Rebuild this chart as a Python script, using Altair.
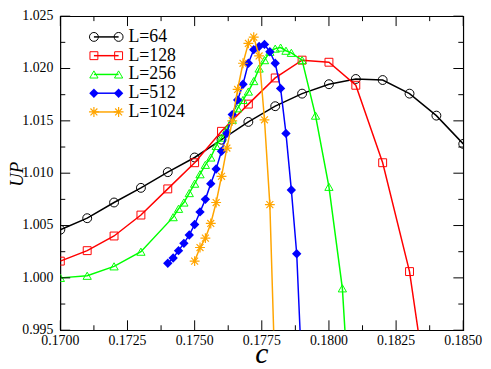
import altair as alt
import pandas as pd

# ---------------- data ----------------
labels = ["L=64", "L=128", "L=256", "L=512", "L=1024"]
colors = ["#000000", "#ff0000", "#00ff00", "#0000ff", "#ffa500"]

c64 = [0.170, 0.171, 0.172, 0.173, 0.174, 0.175, 0.176, 0.177, 0.178, 0.179,
       0.180, 0.181, 0.182, 0.183, 0.184, 0.185]
up64 = [1.0046, 1.0057, 1.0072, 1.0086, 1.0101, 1.0115, 1.0132, 1.0149, 1.0164, 1.0176,
        1.0185, 1.0190, 1.0189, 1.0176, 1.0155, 1.0128]

c128 = [0.170, 0.171, 0.172, 0.173, 0.174, 0.175, 0.176, 0.177, 0.178, 0.179,
        0.180, 0.181, 0.182, 0.183, 0.184]
up128 = [1.0016, 1.0026, 1.0040, 1.0060, 1.0085, 1.0110, 1.0140, 1.0166, 1.0191, 1.0208,
         1.0206, 1.0184, 1.0110, 1.0006, 0.9830]

c256 = [0.1700, 0.1710, 0.1720, 0.1730, 0.1742, 0.1744, 0.1746, 0.1748, 0.1750, 0.1752,
        0.1754, 0.1756, 0.1758, 0.1760, 0.1762, 0.1764, 0.1766, 0.1768, 0.1770, 0.1772,
        0.1774, 0.1776, 0.1778, 0.1780, 0.1782, 0.1784, 0.1786, 0.1790, 0.1795, 0.1800,
        0.1805, 0.1810]
up256 = [1.0000, 1.0002, 1.0011, 1.0025, 1.0058, 1.0066, 1.0072, 1.0081, 1.0090, 1.0099,
         1.0108, 1.0115, 1.0126, 1.0134, 1.0142, 1.0151, 1.0162, 1.0170, 1.0178, 1.0188,
         1.0200, 1.0208, 1.0216, 1.0219, 1.0220, 1.0217, 1.0215, 1.0208, 1.0155, 1.0087,
         0.9990, 0.9780]

c512 = [0.1740, 0.1742, 0.1744, 0.1746, 0.1748, 0.1750, 0.1752, 0.1754, 0.1756, 0.1758,
        0.1760, 0.1762, 0.1764, 0.1766, 0.1768, 0.1770, 0.1772, 0.1774, 0.1776, 0.1778,
        0.1780, 0.1782, 0.1784, 0.1786, 0.1788, 0.1790]
up512 = [1.0014, 1.0019, 1.0026, 1.0033, 1.0041, 1.0051, 1.0063, 1.0075, 1.0090, 1.0104,
         1.0121, 1.0138, 1.0156, 1.0170, 1.0185, 1.0205, 1.0218, 1.0221, 1.0223, 1.0216,
         1.0205, 1.0181, 1.0138, 1.0084, 1.0023, 0.9905]

c1024 = [0.1750, 0.1752, 0.1754, 0.1756, 0.1758, 0.1760, 0.1762, 0.1764, 0.1766, 0.1768,
         0.1770, 0.1772, 0.1774, 0.1776, 0.1778, 0.1780]
up1024 = [1.0016, 1.0029, 1.0038, 1.0052, 1.0072, 1.0097, 1.0124, 1.0150, 1.0180, 1.0205,
          1.0224, 1.0230, 1.0212, 1.0151, 1.0070, 0.9900]

x_major = [0.1700, 0.1725, 0.1750, 0.1775, 0.1800, 0.1825, 0.1850]
x_minor = [0.17125, 0.17375, 0.17625, 0.17875, 0.18125, 0.18375]
y_major = [0.995, 1.000, 1.005, 1.010, 1.015, 1.020, 1.025]
y_minor = [0.9975, 1.0025, 1.0075, 1.0125, 1.0175, 1.0225]
x_title = "c"
y_title = "UP"

# ---------------- layout / style ----------------
W, H = 408, 318
FONT = "Liberation Serif"
ASTERISK = "M-1,0L1,0M0,-1L0,1M-0.7,-0.7L0.7,0.7M-0.7,0.7L0.7,-0.7"
shapes = ["circle", "square", "triangle-up", "diamond", ASTERISK]
filled = [False, False, False, True, False]
sizes = [81, 64, 70, 90, 100]
legend_y = [21, 40, 59, 78, 97]

xs = alt.Scale(domain=[0.170, 0.185], nice=False, zero=False)
ys = alt.Scale(domain=[0.995, 1.025], nice=False, zero=False)

series = [(c64, up64), (c128, up128), (c256, up256), (c512, up512), (c1024, up1024)]

layers = []
for (cs, ups), col, shp, fl, sz in zip(series, colors, shapes, filled, sizes):
    df = pd.DataFrame({"c": cs, "UP": ups})
    base = alt.Chart(df).encode(
        x=alt.X("c:Q", scale=xs, axis=None),
        y=alt.Y("UP:Q", scale=ys, axis=None),
    )
    layers.append(base.mark_line(color=col, strokeWidth=1.5, clip=True))
    layers.append(base.mark_point(shape=shp, size=sz, filled=fl, color=col, opacity=1,
                                  strokeWidth=1.2 if shp == ASTERISK else 1, clip=True))

# ---------------- ticks (inside the frame), labels and titles ----------------
def xticks(vals, length):
    df = pd.DataFrame({"v": vals})
    b = alt.Chart(df).mark_rule(color="black", strokeWidth=1).encode(
        x=alt.X("v:Q", scale=xs, axis=None), y=alt.value(H), y2=alt.value(H - length))
    t = alt.Chart(df).mark_rule(color="black", strokeWidth=1).encode(
        x=alt.X("v:Q", scale=xs, axis=None), y=alt.value(0), y2=alt.value(length))
    return [b, t]

def yticks(vals, length):
    df = pd.DataFrame({"w": vals})
    l = alt.Chart(df).mark_rule(color="black", strokeWidth=1).encode(
        y=alt.Y("w:Q", scale=ys, axis=None), x=alt.value(0), x2=alt.value(length))
    r = alt.Chart(df).mark_rule(color="black", strokeWidth=1).encode(
        y=alt.Y("w:Q", scale=ys, axis=None), x=alt.value(W), x2=alt.value(W - length))
    return [l, r]

layers += xticks(x_major, 10)
layers += xticks(x_minor, 5)
layers += yticks(y_major, 10)
layers += yticks(y_minor, 5)

layers.append(alt.Chart(pd.DataFrame({"v": x_major})).mark_text(
    font=FONT, fontSize=14, color="black", align="center", baseline="top").encode(
    x=alt.X("v:Q", scale=xs, axis=None), y=alt.value(H + 4),
    text=alt.Text("v:Q", format=".4f")))
layers.append(alt.Chart(pd.DataFrame({"w": y_major})).mark_text(
    font=FONT, fontSize=14, color="black", align="right", baseline="middle").encode(
    y=alt.Y("w:Q", scale=ys, axis=None), x=alt.value(-7),
    text=alt.Text("w:Q", format=".3f")))
layers.append(alt.Chart(pd.DataFrame({"t": [x_title]})).mark_text(
    font=FONT, fontSize=30, fontStyle="italic", color="black", align="center",
    baseline="alphabetic").encode(x=alt.value(W / 2), y=alt.value(H + 33), text="t:N"))
layers.append(alt.Chart(pd.DataFrame({"t": [y_title]})).mark_text(
    font=FONT, fontSize=19, fontStyle="italic", color="black", align="center",
    baseline="alphabetic", angle=270).encode(x=alt.value(-38), y=alt.value(H / 2 + 1),
                                             text="t:N"))

# ---------------- legend (inside the plot, top-left) ----------------
for lab, col, shp, fl, sz, yy in zip(labels, colors, shapes, filled, sizes, legend_y):
    d = pd.DataFrame({"label": [lab]})
    layers.append(alt.Chart(d).mark_rule(color=col, strokeWidth=1.5).encode(
        x=alt.value(34), x2=alt.value(59), y=alt.value(yy)))
    for xp in (34, 59):
        layers.append(alt.Chart(d).mark_point(
            shape=shp, size=sz, filled=fl, color=col, opacity=1,
            strokeWidth=1.2 if shp == ASTERISK else 1).encode(
            x=alt.value(xp), y=alt.value(yy)))
    layers.append(alt.Chart(d).mark_text(
        align="left", baseline="middle", font=FONT, fontSize=18, color="black").encode(
        x=alt.value(69), y=alt.value(yy), text="label:N"))

chart = alt.layer(*layers).properties(
    width=W, height=H,
    autosize=alt.AutoSizeParams(type="none"),
    padding={"left": 53, "top": 6, "right": 20, "bottom": 37},
    background="white",
).configure_view(stroke="black", strokeWidth=1.2)

chart.save("out.html", embed_options={"renderer": "svg", "actions": False})
